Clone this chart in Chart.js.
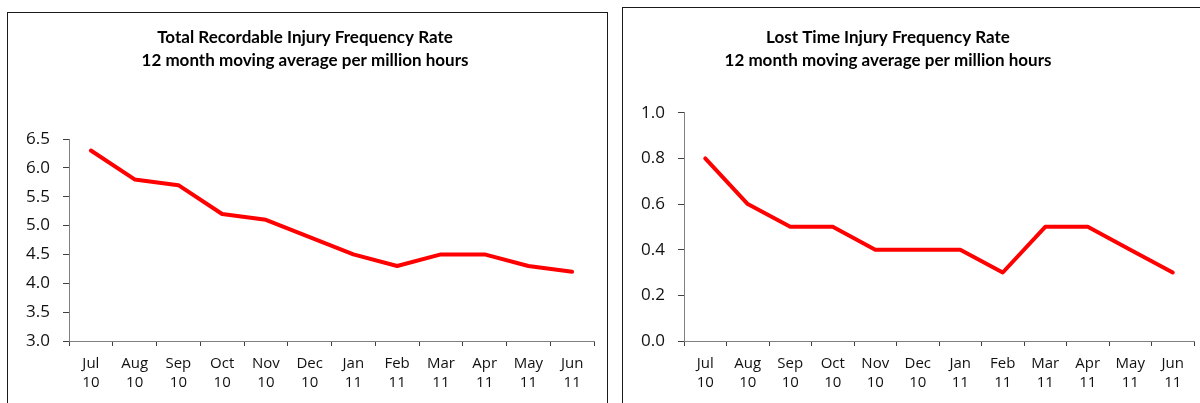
<!DOCTYPE html>
<html>
<head>
<meta charset="utf-8">
<script src="https://cdn.jsdelivr.net/npm/chart.js@4"></script>
<style>
  body { margin: 0; width: 1200px; height: 403px; overflow: hidden; background: #fff; position: relative; }
  .marco { position: absolute; border: 1px solid #1a1a1a; background: #fff; }
  canvas { position: absolute; top: 0; }
</style>
</head>
<body>
<div class="marco" style="left:7px; top:12px; width:599px; height:500px;"></div>
<div class="marco" style="left:622px; top:7px; width:700px; height:500px;"></div>
<canvas id="graficoTRIFR" width="610" height="403" style="left:0"></canvas>
<canvas id="graficoLTIFR" width="624" height="403" style="left:576px"></canvas>
<script>
// Datos
const meses = [['Jul', '10'], ['Aug', '10'], ['Sep', '10'], ['Oct', '10'], ['Nov', '10'], ['Dec', '10'],
               ['Jan', '11'], ['Feb', '11'], ['Mar', '11'], ['Apr', '11'], ['May', '11'], ['Jun', '11']];
const trifr = [6.3, 5.8, 5.7, 5.2, 5.1, 4.8, 4.5, 4.3, 4.5, 4.5, 4.3, 4.2];
const ltifr = [0.8, 0.6, 0.5, 0.5, 0.4, 0.4, 0.4, 0.3, 0.5, 0.5, 0.4, 0.3];
const marcasTrifr = [3.0, 3.5, 4.0, 4.5, 5.0, 5.5, 6.0, 6.5];
const marcasLtifr = [0.0, 0.2, 0.4, 0.6, 0.8, 1.0];
const tituloTrifr = ['Total Recordable Injury Frequency Rate', '12 month moving average per million hours'];
const tituloLtifr = ['Lost Time Injury Frequency Rate', '12 month moving average per million hours'];

// margenIzq / margenDer centran el titulo sobre su marco
function crearGrafico(id, titulo, valores, marcas, margenIzq, anchoEjeY, margenDer, espacioTitulo) {
  const ctx = document.getElementById(id).getContext('2d');
  return new Chart(ctx, {
    type: 'line',
    data: {
      labels: meses,
      datasets: [{
        data: valores,
        borderColor: '#ff0000',
        borderWidth: 4,
        pointRadius: 0,
        borderCapStyle: 'round',
        borderJoinStyle: 'round',
        tension: 0
      }]
    },
    options: {
      responsive: false,
      animation: false,
      layout: { padding: { left: margenIzq, right: margenDer, top: 0, bottom: 0 } },
      plugins: {
        legend: { display: false },
        tooltip: { enabled: false },
        title: {
          display: true,
          text: titulo,
          color: '#000',
          font: { family: 'Lato', size: 17, weight: 'bold', lineHeight: 23.4 / 17 },
          padding: { top: 25.6, bottom: espacioTitulo }
        }
      },
      scales: {
        x: {
          offset: true,
          grid: { offset: true, drawOnChartArea: false, tickLength: 5, color: '#404040' },
          border: { color: '#808080' },
          ticks: { color: '#111', font: { family: 'Open Sans', size: 15, lineHeight: 19 / 15 }, padding: 8, maxRotation: 0, autoSkip: false },
          afterFit: s => { s.height = 62; }
        },
        y: {
          min: marcas[0],
          max: marcas[marcas.length - 1],
          afterBuildTicks: s => { s.ticks = marcas.map(v => ({ value: v })); },
          grid: { drawOnChartArea: false, tickLength: 6, color: '#404040' },
          border: { color: '#808080' },
          ticks: { color: '#111', font: { family: 'Open Sans', size: 17 }, padding: 13, callback: v => v.toFixed(1) },
          afterFit: s => { s.width = anchoEjeY; }
        }
      }
    }
  });
}

const graficoTrifr = crearGrafico('graficoTRIFR', tituloTrifr, trifr, marcasTrifr, 16, 53, 16, 66.6);
const graficoLtifr = crearGrafico('graficoLTIFR', tituloLtifr, ltifr, marcasLtifr, 6, 102, 6, 40.3);
</script>
</body>
</html>
